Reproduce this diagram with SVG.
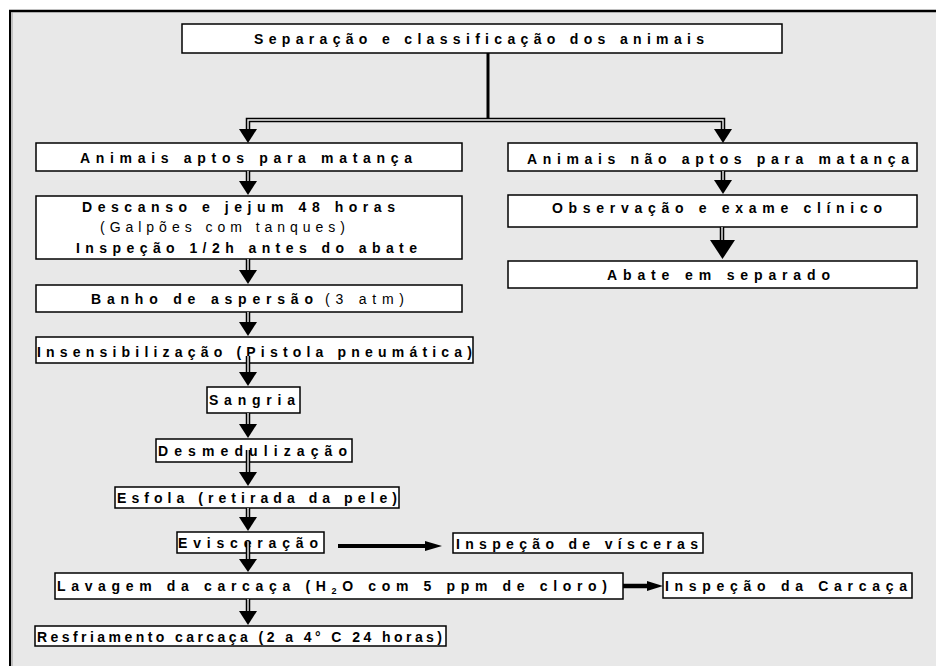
<svg xmlns="http://www.w3.org/2000/svg" width="936" height="666" viewBox="0 0 936 666">
<style>
.box{fill:#fff;stroke:#000;stroke-width:1.5}
.t{font-family:"Liberation Sans",Arial,sans-serif;font-size:14px;font-weight:bold;fill:#000}
.n{font-weight:normal}
.dbo{fill:none;stroke:#000;stroke-width:4.5}
.dbi{fill:none;stroke:#eee;stroke-width:1.4}
.solid{fill:none;stroke:#000}
.head{fill:#000}
</style>
<rect x="10" y="10" width="930" height="660" fill="#e8e8e8"/>
<line x1="9" y1="11" x2="936" y2="11" stroke="#000" stroke-width="2.5"/>
<line x1="10" y1="10" x2="10" y2="666" stroke="#000" stroke-width="2"/>
<line x1="12" y1="12" x2="12" y2="666" stroke="#999" stroke-width="1"/>

<g id="n-top"><rect class="box" x="182" y="24" width="600" height="29"/><text class="t" x="254" y="44" textLength="450" lengthAdjust="spacing">Separação e classificação dos animais</text></g>
<g id="n-aptos"><rect class="box" x="36" y="143" width="426" height="28"/><text class="t" x="80" y="163" textLength="332" lengthAdjust="spacing">Animais aptos para matança</text></g>
<g id="n-naoaptos"><rect class="box" x="508" y="143" width="409" height="28"/><text class="t" x="527" y="164" textLength="382" lengthAdjust="spacing">Animais não aptos para matança</text></g>
<g id="n-descanso"><rect class="box" x="36" y="196" width="426" height="63"/>
<text class="t" x="82" y="212" textLength="313" lengthAdjust="spacing">Descanso e jejum 48 horas</text>
<text class="t n" x="100" y="232" textLength="245" lengthAdjust="spacing">(Galpões com tanques)</text>
<text class="t" x="76" y="253" textLength="341" lengthAdjust="spacing">Inspeção 1/2h antes do abate</text></g>
<g id="n-observacao"><rect class="box" x="508" y="195" width="409" height="32"/><text class="t" x="552" y="213" textLength="330" lengthAdjust="spacing">Observação e exame clínico</text></g>
<g id="n-abate"><rect class="box" x="508" y="261" width="409" height="27"/><text class="t" x="607" y="280" textLength="223" lengthAdjust="spacing">Abate em separado</text></g>
<g id="n-banho"><rect class="box" x="36" y="285" width="426" height="27"/><text class="t" x="91" y="304" textLength="222" lengthAdjust="spacing">Banho de aspersão</text><text class="t n" x="325" y="304" textLength="79" lengthAdjust="spacing">(3 atm)</text></g>
<g id="n-insens"><rect class="box" x="36" y="337" width="437" height="26"/><text class="t" x="37" y="357" textLength="435" lengthAdjust="spacing">Insensibilização (Pistola pneumática)</text></g>
<g id="n-sangria"><rect class="box" x="207" y="387" width="93" height="26"/><text class="t" x="209" y="405" textLength="86" lengthAdjust="spacing">Sangria</text></g>
<g id="n-desmed"><rect class="box" x="156" y="439" width="196" height="23"/><text class="t" x="158" y="456" textLength="189" lengthAdjust="spacing">Desmedulização</text></g>
<g id="n-esfola"><rect class="box" x="115" y="487" width="284" height="21"/><text class="t" x="117" y="503" textLength="280" lengthAdjust="spacing">Esfola (retirada da pele)</text></g>
<g id="n-evisc"><rect class="box" x="177" y="532" width="147" height="21"/><text class="t" x="178" y="548" textLength="140" lengthAdjust="spacing">Evisceração</text></g>
<g id="n-visceras"><rect class="box" x="453" y="533" width="250" height="20"/><text class="t" x="456" y="549" textLength="242" lengthAdjust="spacing">Inspeção de vísceras</text></g>
<g id="n-lavagem"><rect class="box" x="55" y="573" width="568" height="26"/><text class="t" x="57" y="591" textLength="550" lengthAdjust="spacing">Lavagem da carcaça (H<tspan font-size="9" dy="3">2</tspan><tspan dy="-3">O com 5 ppm de cloro)</tspan></text></g>
<g id="n-carcaca"><rect class="box" x="663" y="573" width="249" height="25"/><text class="t" x="665" y="591" textLength="242" lengthAdjust="spacing">Inspeção da Carcaça</text></g>
<g id="n-resfr"><rect class="box" x="35" y="626" width="411" height="20"/><text class="t" x="37" y="642" textLength="405" lengthAdjust="spacing">Resfriamento carcaça (2 a 4° C 24 horas)</text></g>

<g id="connectors">
<line class="solid" x1="488" y1="53" x2="488" y2="119" stroke-width="3"/>
<path class="dbo" d="M248,131 V120 H723 V131"/><path class="dbi" d="M248,131 V120 H723 V131"/>
<polygon class="head" points="239,129 257,129 248,143"/>
<polygon class="head" points="714,129 732,129 723,143"/>
<g>
<path class="dbo" d="M248,171 V182"/><path class="dbi" d="M248,171 V182"/><polygon class="head" points="239,181 257,181 248,195"/>
<path class="dbo" d="M248,259 V271"/><path class="dbi" d="M248,259 V271"/><polygon class="head" points="239,270 257,270 248,284"/>
<path class="dbo" d="M248,312 V323"/><path class="dbi" d="M248,312 V323"/><polygon class="head" points="239,322 257,322 248,336"/>
<path class="dbo" d="M248,356 V373"/><path class="dbi" d="M248,356 V373"/><polygon class="head" points="239,372 257,372 248,386"/>
<path class="dbo" d="M248,413 V425"/><path class="dbi" d="M248,413 V425"/><polygon class="head" points="239,424 257,424 248,438"/>
<path class="dbo" d="M248,450 V473"/><path class="dbi" d="M248,450 V473"/><polygon class="head" points="239,472 257,472 248,486"/>
<path class="dbo" d="M248,508 V518"/><path class="dbi" d="M248,508 V518"/><polygon class="head" points="239,517 257,517 248,531"/>
<path class="dbo" d="M248,542 V560"/><path class="dbi" d="M248,542 V560"/><polygon class="head" points="239,559 257,559 248,572"/>
<path class="dbo" d="M248,599 V612"/><path class="dbi" d="M248,599 V612"/><polygon class="head" points="239,611 257,611 248,625"/>
<path class="dbo" d="M723,171 V181"/><path class="dbi" d="M723,171 V181"/><polygon class="head" points="714,180 732,180 723,194"/>
<path class="dbo" d="M722,227 V242"/><path class="dbi" d="M722,227 V242"/><polygon class="head" points="710,240 735,240 722.5,259"/>
</g>
<line class="solid" x1="338" y1="546" x2="428" y2="546" stroke-width="4"/><polygon class="head" points="425,541 442,546 425,551"/>
<line class="solid" x1="623" y1="586" x2="650" y2="586" stroke-width="4.5"/><polygon class="head" points="647,581 663,586 647,591"/>
</g>
</svg>
